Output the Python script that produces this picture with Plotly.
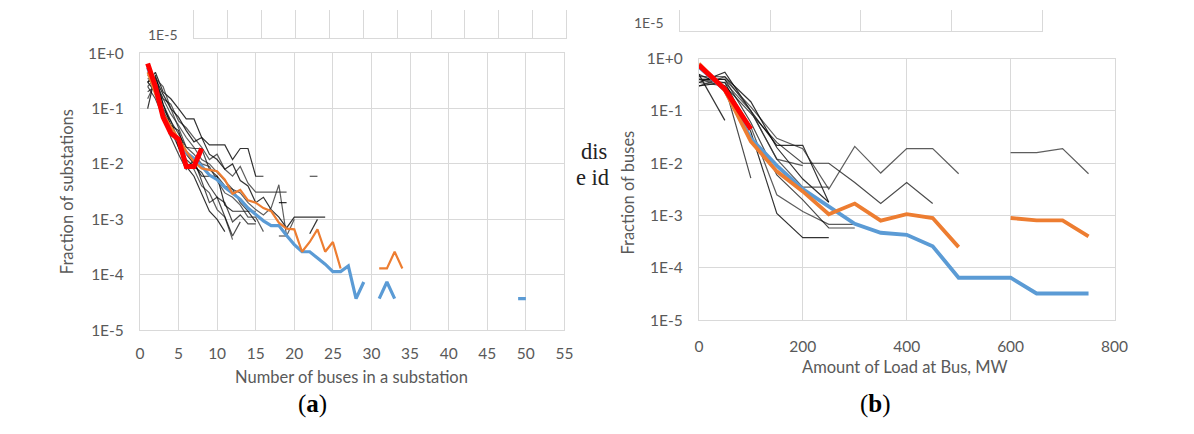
import plotly.graph_objects as go

W, H = 1194, 434

# ---------------- Panel (a): substations ----------------
subst_x = list(range(1, 35)) + [49, 50]
subst_blue = [0.55, 0.2, 0.075, 0.04, 0.025, 0.016, 0.0125, 0.0091, 0.0063, 0.0052,
              0.0038, 0.003, 0.0023, 0.0016, 0.0012, 0.00094, 0.00077, 0.00077, 0.00051, 0.00035,
              0.00026, 0.00026, 0.0002, 0.000155, 0.000114, 0.000114, 0.000144, 3.7e-5, 7.4e-5, None,
              3.7e-5, 7.4e-5, 3.7e-5, None, 3.7e-5, 3.7e-5]
subst_orange = [0.45, 0.18, 0.08, 0.047, 0.028, 0.017, 0.011, 0.0083, 0.0078, 0.0074,
                0.0052, 0.0029, 0.0034, 0.0022, 0.002, 0.0016, 0.0014, 0.00087, 0.00068, 0.00066,
                0.00026, 0.00039, 0.00066, 0.00026, 0.00039, 0.00013, None, None, None, None,
                0.00013, 0.00013, 0.00026, 0.00013, None, None]
subst_red_x = [1, 2, 3, 4, 5, 6, 7, 8]
subst_red = [0.65, 0.25, 0.07, 0.036, 0.028, 0.009, 0.009, 0.019]

subst_black = [
    [0.3, 0.45, 0.2, 0.15, 0.1, 0.065, 0.065, 0.03, 0.022, 0.022, 0.022, 0.012, 0.019, 0.019, 0.006, 0.006],
    [0.35, 0.3, 0.15, 0.12, 0.06, 0.045, 0.03, 0.02, 0.012, 0.015, 0.008, 0.006, 0.009, 0.0045, 0.0031, 0.0031, 0.0031, 0.0031, 0.0031],
    [0.2, 0.25, 0.1, 0.06, 0.035, 0.02, 0.019, 0.019, 0.008, 0.006, 0.004, 0.0035, 0.002, 0.0014, 0.0014],
    [0.1, 0.4, 0.12, 0.05, 0.04, 0.015, 0.01, 0.006, 0.006, 0.006, 0.0018, 0.0014, 0.0014, 0.0014, 0.0009],
    [0.45, 0.2, 0.08, 0.04, 0.02, 0.01, 0.008, 0.004, 0.003, 0.0015, 0.0011, 0.00043],
    [0.25, 0.15, 0.07, 0.03, 0.015, 0.008, 0.012, 0.005, 0.002, 0.0025, 0.0011, 0.0005, 0.0009],
    [0.3, 0.35, 0.18, 0.1, 0.07, 0.04, 0.025, 0.03, 0.015, 0.012, 0.008, 0.01, 0.005, 0.004, 0.002, 0.0025, 0.0015, 0.0011, 0.0007, 0.0011, 0.0011, 0.0011, 0.0011, 0.0011],
    [0.15, 0.3, 0.15, 0.08, 0.05, 0.03, 0.02, 0.012, 0.01, 0.007, 0.005, 0.0035, 0.003, 0.002, 0.0015, 0.0012, 0.0016, 0.0042, 0.0005, 0.001],
    [0.4, 0.3, 0.12, 0.06, 0.025, 0.012, 0.009, 0.007, 0.004, 0.0025, 0.002, 0.0009, 0.0012, 0.00083, 0.00083],
    [0.3, 0.2, 0.09, 0.05, 0.02, 0.009, 0.006, 0.003, 0.0014, 0.001, 0.0006],
    [0.25, 0.35, 0.25, 0.1, 0.045, 0.02, 0.015, 0.01, 0.009, 0.005, 0.003, 0.0025, 0.0018, 0.0011, 0.0011, 0.0006],
]
subst_black_short_x = [[18, 19], [18, 19], [22, 23], [22, 23]]
subst_black_short_y = [[0.002, 0.002], [0.0005, 0.0005], [0.006, 0.006], [0.00055, 0.001]]

# ---------------- Panel (b): load at bus ----------------
load_x = [0, 50, 100, 150, 200, 250, 300, 350, 400, 450, 500, 550, 600, 650, 700, 750]
load_blue = [0.7, 0.25, 0.03, 0.009, 0.0032, 0.0015, 0.0007, 0.00047, 0.00043, 0.00026,
             6.5e-5, 6.5e-5, 6.5e-5, 3.25e-5, 3.25e-5, 3.25e-5]
load_orange = [0.8, 0.25, 0.026, 0.007, 0.0029, 0.00106, 0.0017, 0.0008, 0.00107, 0.0009,
               0.00025, None, 0.0009, 0.00081, 0.00081, 0.0004]
load_red = [0.75, 0.26, 0.045]

load_black = [
    [0.35, 0.55, 0.1, 0.022, 0.022, 0.0018],
    [0.4, 0.4, 0.12, 0.03, 0.019, 0.0032, 0.021, 0.0065, 0.019, 0.019, 0.0063, None, 0.016, 0.016, 0.019, 0.0063],
    [0.5, 0.3, 0.09, 0.025, 0.01, 0.01, 0.0043, 0.0017, 0.0043, 0.0017],
    [0.45, 0.45, 0.15, 0.02, 0.005, 0.0018],
    [0.3, 0.45, 0.1, 0.012, 0.0035, 0.0035],
    [0.4, 0.3, 0.0052],
    [0.5, 0.066],
    [0.35, 0.3, 0.05, 0.0025, 0.0012, 0.00068, 0.00068],
    [0.4, 0.4, 0.06, 0.006, 0.002, 0.00058, 0.00058],
    [0.3, 0.35, 0.04, 0.0011, 0.00038, 0.00038],
    [0.4, 0.35, 0.1, 0.012, 0.009],
]

y_tickvals = [1e-5, 1e-4, 1e-3, 1e-2, 1e-1, 1]
y_ticktext = ["1E-5", "1E-4", "1E-3", "1E-2", "1E-1", "1E+0"]

BLUE = "#5b9bd5"
ORANGE = "#ed7d31"
RED = "#ff0000"
GRID = "#d9d9d9"
TXT = "#595959"
FONT = "Lato"

fig = go.Figure()

def line(x, y, color, width, xa, ya, opacity=1.0):
    fig.add_trace(go.Scatter(x=x, y=y, mode="lines", xaxis=xa, yaxis=ya,
                             line=dict(color=color, width=width), opacity=opacity,
                             connectgaps=False, showlegend=False, hoverinfo="skip"))

# panel a
black_cols = ["rgba(0,0,0,0.8)", "rgba(40,40,40,0.75)", "rgba(0,0,0,0.7)"]
for i, ys in enumerate(subst_black):
    line(list(range(1, len(ys) + 1)), ys, black_cols[i % 3], 1.2, "x", "y")
for xs, ys in zip(subst_black_short_x, subst_black_short_y):
    line(xs, ys, "rgba(0,0,0,0.8)", 1.2, "x", "y")
line(subst_x, subst_blue, BLUE, 3.2, "x", "y")
line(subst_x, subst_orange, ORANGE, 2.2, "x", "y")
line(subst_red_x, subst_red, RED, 5, "x", "y")

# panel b
for i, ys in enumerate(load_black):
    line(load_x[:len(ys)], ys, black_cols[i % 3], 1.2, "x2", "y2")
line(load_x, load_blue, BLUE, 3.8, "x2", "y2")
line(load_x, load_orange, ORANGE, 3.8, "x2", "y2")
line(load_x[:len(load_red)], load_red, RED, 5, "x2", "y2")

# empty traces so that the clipped boxes of the previous figure get drawn
for xa, ya in (("x3", "y3"), ("x4", "y4")):
    fig.add_trace(go.Scatter(x=[None], y=[None], mode="lines", xaxis=xa, yaxis=ya,
                             showlegend=False, hoverinfo="skip"))

def px(x):
    return x / W

def py(y):
    return 1 - y / H

tickfont = dict(family=FONT, size=15.5, color=TXT)
common_x = dict(showgrid=True, gridcolor=GRID, gridwidth=1, showline=True, mirror=True,
                linecolor=GRID, linewidth=1, zeroline=False, ticks="", tickfont=tickfont)
common_y = dict(type="log", range=[-5, 0], tickvals=y_tickvals, ticktext=y_ticktext,
                showgrid=True, gridcolor=GRID, gridwidth=1, showline=True, mirror=True,
                linecolor=GRID, linewidth=1, zeroline=False, ticks="", tickfont=tickfont,
                ticklabelstandoff=12)
box_y = dict(range=[0, 1], showticklabels=False, showgrid=False, showline=True, mirror=True,
             linecolor=GRID, zeroline=False, ticks="")

fig.update_layout(
    width=W, height=H, margin=dict(l=0, r=0, t=0, b=0),
    paper_bgcolor="white", plot_bgcolor="white",
    xaxis=dict(domain=[px(137), px(568)], range=[0, 55], dtick=5, anchor="y",
               ticklabelstandoff=9, **common_x),
    yaxis=dict(domain=[py(334), py(45)], anchor="x", **common_y),
    xaxis2=dict(domain=[px(704.5), px(1126.5)], range=[0, 800], dtick=200, anchor="y2",
                ticklabelstandoff=12, **common_x),
    yaxis2=dict(domain=[py(323.7), py(50.7)], anchor="x2", **common_y),
    # clipped boxes of the preceding figure at the top of the page
    xaxis3=dict(domain=[px(192), px(570)], range=[0, 11], tickvals=list(range(12)),
                showticklabels=False, showgrid=True, gridcolor=GRID, showline=True,
                linecolor=GRID, zeroline=False, ticks="", anchor="y3"),
    yaxis3=dict(domain=[py(29), 1], anchor="x3", **box_y),
    xaxis4=dict(domain=[px(685), px(1053)], range=[0, 4], tickvals=list(range(5)),
                showticklabels=False, showgrid=True, gridcolor=GRID, showline=True,
                linecolor=GRID, zeroline=False, ticks="", anchor="y4"),
    yaxis4=dict(domain=[py(22), 1], anchor="x4", **box_y),
)

titlefont = dict(family=FONT, size=16.5, color=TXT)
serif = dict(family="Liberation Serif, DejaVu Serif, serif", size=25, color="black")
bodyfont = dict(family="Liberation Serif, DejaVu Serif, serif", size=22.5, color="#222")
smallfont = dict(family=FONT, size=14, color=TXT)
annos = [
    dict(text="Number of buses in a substation", x=px(352), y=py(383), font=titlefont),
    dict(text="Fraction of substations", x=px(63), y=py(190), font=titlefont, textangle=-90),
    dict(text="Amount of Load at Bus, MW", x=px(914), y=py(372), font=titlefont),
    dict(text="Fraction of buses", x=px(633), y=py(190), font=titlefont, textangle=-90),
    dict(text="(<b>a</b>)", x=px(312), y=py(411), font=serif),
    dict(text="(<b>b</b>)", x=px(884), y=py(411), font=serif),
    dict(text="dis", x=px(583), y=py(148), font=bodyfont, xanchor="left"),
    dict(text="e id", x=px(578), y=py(175), font=bodyfont, xanchor="left"),
    dict(text="1E-5", x=px(178), y=py(26), font=smallfont, xanchor="right"),
    dict(text="1E-5", x=px(671), y=py(13), font=smallfont, xanchor="right"),
]
for a in annos:
    a.setdefault("xanchor", "center")
    fig.add_annotation(xref="paper", yref="paper", showarrow=False, yanchor="middle", **a)

fig.write_html(
    "out.html",
    post_script="document.body.style.margin='0';document.body.style.padding='0';"
                "document.documentElement.style.overflow='hidden';",
)
